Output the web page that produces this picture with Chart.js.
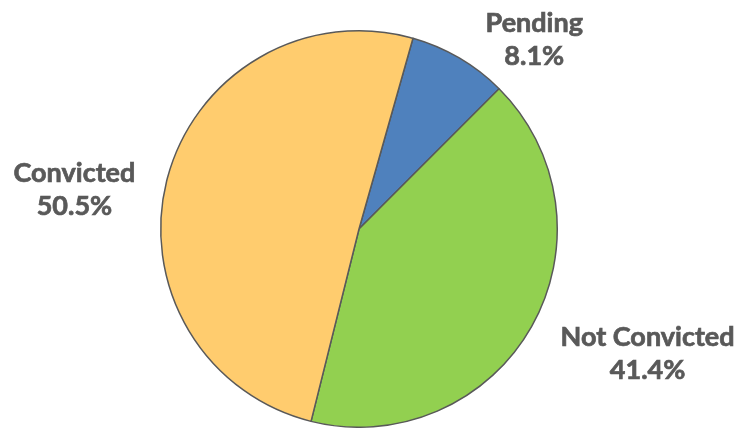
<!DOCTYPE html>
<html>
<head>
<meta charset="utf-8">
<script src="https://cdn.jsdelivr.net/npm/chart.js@4/dist/chart.umd.min.js"></script>
<style>
  html, body { margin: 0; padding: 0; background: #fff; }
  #wrap { width: 739px; height: 428px; }
</style>
</head>
<body>
<div id="wrap"><canvas id="myChart"></canvas></div>
<script>
const labels = ['Pending', 'Not Convicted', 'Convicted'];
const values = [8.1, 41.4, 50.5];
const colors = ['#4F81BD', '#92D050', '#FFCC6E'];

// where each label sits relative to the middle of its slice edge
const labelOffsets = [[75, -19], [116, 26], [-93, 10]];

const outsideLabels = {
    id: 'outsideLabels',
    afterDraw(chart) {
        const c = chart.ctx;
        const arcs = chart.getDatasetMeta(0).data;
        c.save();
        c.fillStyle = '#595959';
        c.strokeStyle = '#595959';
        c.lineWidth = 0.7;
        c.font = 'bold 27px Lato';
        c.textAlign = 'center';
        c.textBaseline = 'alphabetic';
        arcs.forEach((arc, i) => {
            const mid = (arc.startAngle + arc.endAngle) / 2;
            const x = arc.x + Math.cos(mid) * arc.outerRadius + labelOffsets[i][0];
            const y = arc.y + Math.sin(mid) * arc.outerRadius + labelOffsets[i][1];
            const pct = values[i].toFixed(1) + '%';
            c.fillText(labels[i], x, y - 6.5);
            c.strokeText(labels[i], x, y - 6.5);
            c.fillText(pct, x, y + 26.5);
            c.strokeText(pct, x, y + 26.5);
        });
        c.restore();
    }
};

const ctx = document.getElementById('myChart');
const myChart = new Chart(ctx, {
    type: 'pie',
    data: {
        labels: labels,
        datasets: [{
            data: values,
            backgroundColor: colors,
            borderColor: '#595959',
            borderWidth: 1.5
        }]
    },
    options: {
        responsive: true,
        maintainAspectRatio: false,
        animation: false,
        rotation: 15.8,
        layout: { padding: { top: 30, bottom: 0, left: 0, right: 21 } },
        plugins: {
            legend: { display: false },
            tooltip: { enabled: false }
        }
    },
    plugins: [outsideLabels]
});
</script>
</body>
</html>
